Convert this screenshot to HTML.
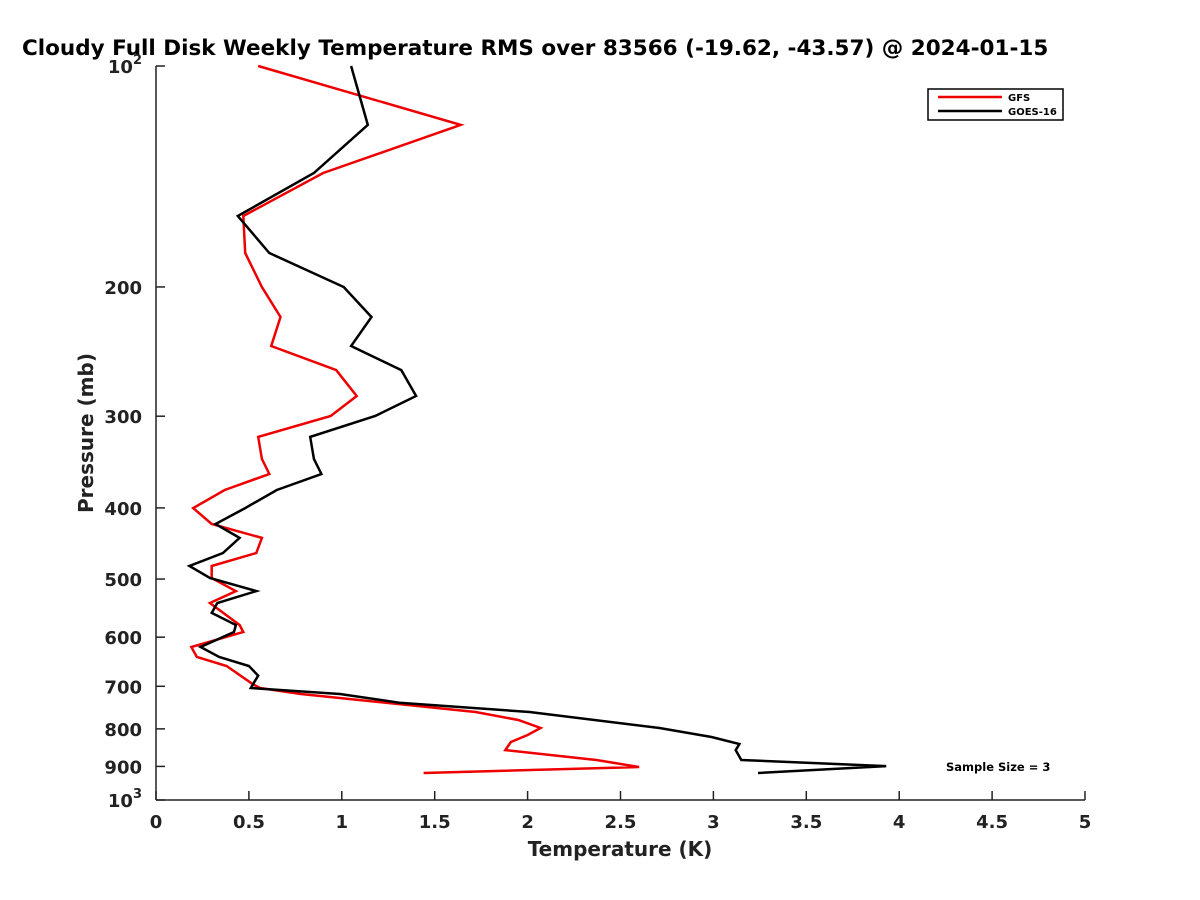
<!DOCTYPE html>
<html><head><meta charset="utf-8"><style>body{margin:0;background:#fff}svg{display:block;font-family:"DejaVu Sans","Liberation Sans",sans-serif}</style></head>
<body>
<svg id="chart" width="1200" height="900" viewBox="0 0 1200 900">
<text x="22" y="55" font-size="21.5" font-weight="bold" fill="#000">Cloudy Full Disk Weekly Temperature RMS over 83566 (-19.62, -43.57) @ 2024-01-15</text>
<g id="axes"></g>
<g id="series"></g>
<text x="620" y="856" font-size="20" font-weight="bold" text-anchor="middle" fill="#222">Temperature (K)</text>
<text transform="translate(93,433) rotate(-90)" font-size="20" font-weight="bold" text-anchor="middle" fill="#222">Pressure (mb)</text>
<text x="946" y="771" font-size="11.5" font-weight="bold" fill="#000">Sample Size = 3</text>
<g>
<rect x="928" y="89" width="135" height="31" fill="#fff" stroke="#000" stroke-width="1.5"/>
<line x1="938" y1="97" x2="1002" y2="97" stroke="#e00" stroke-width="2.5"/>
<text x="1008" y="101" font-size="10" font-weight="bold">GFS</text>
<line x1="938" y1="111" x2="1002" y2="111" stroke="#000" stroke-width="2.5"/>
<text x="1008" y="115" font-size="10" font-weight="bold">GOES-16</text>
</g>
</svg>
<script>
const xTicks=[0,0.5,1,1.5,2,2.5,3,3.5,4,4.5,5];
const xTickLabels=["0","0.5","1","1.5","2","2.5","3","3.5","4","4.5","5"];
const yTicks=[100,200,300,400,500,600,700,800,900,1000];
const gfsPressure=[100,120.3,139.9,160.1,179.8,200,219.8,240.7,259.6,281.6,299.8,320.1,343,359.6,378.2,400.2,420.7,439.5,460.8,479.9,498.3,519.2,539.1,577.6,590.4,618.8,638.6,656.9,695,703.8,717.1,758.7,778,797.8,815.5,833.7,855,882.2,901.6,918.8];
const gfsValues=[0.55,1.64,0.90,0.47,0.48,0.57,0.67,0.62,0.97,1.08,0.94,0.55,0.57,0.61,0.37,0.20,0.30,0.57,0.54,0.30,0.30,0.43,0.29,0.45,0.47,0.19,0.22,0.38,0.52,0.56,0.78,1.72,1.95,2.07,2.00,1.91,1.88,2.37,2.60,1.44];
const goesPressure=[100,120.3,139.9,160.1,179.8,200,219.8,240.7,259.6,281.6,299.8,320.1,343,359.6,378.2,400.2,420.7,439.5,460.8,479.9,498.3,519.2,539.1,556,577.6,590.4,618.8,638.6,656.9,677,690,703.8,717.1,737,758.7,797.8,820.6,838.8,855,882.2,899,918.8];
const goesValues=[1.05,1.14,0.85,0.44,0.61,1.01,1.16,1.05,1.32,1.40,1.18,0.83,0.85,0.89,0.65,0.48,0.32,0.45,0.36,0.18,0.29,0.54,0.33,0.30,0.43,0.42,0.24,0.34,0.50,0.55,0.53,0.51,0.99,1.31,2.01,2.71,2.99,3.14,3.12,3.15,3.93,3.24];
const NS="http://www.w3.org/2000/svg";
const X0=156,X1=1085,Y0=66,Y1=800;
function xs(v){return X0+(v-0)/(5-0)*(X1-X0);}
function ys(p){return Y0+(Math.log10(p)-2)*(Y1-Y0);}
function mk(tag,attrs,parent){const e=document.createElementNS(NS,tag);for(const k in attrs)e.setAttribute(k,attrs[k]);parent.appendChild(e);return e;}
const axes=document.getElementById('axes');
const xl=mk('line',{x1:X0,y1:Y1,x2:X1,y2:Y1,stroke:'#222','stroke-width':1.5},axes);


const yl=mk('line',{x1:X0,y1:Y0,x2:X0,y2:Y1,stroke:'#222','stroke-width':1.5},axes);


xTicks.forEach((t,i)=>{const x=xs(t);
mk('line',{x1:x,y1:Y1,x2:x,y2:Y1-9,stroke:'#222','stroke-width':1.5},axes);
const tx=mk('text',{x:x,y:Y1+28,'font-size':18,'font-weight':'bold','text-anchor':'middle',fill:'#222'},axes);
tx.textContent=xTickLabels[i];

});
yTicks.forEach(t=>{const y=ys(t);
mk('line',{x1:X0,y1:y,x2:X0+9,y2:y,stroke:'#222','stroke-width':1.5},axes);
const tx=mk('text',{x:X0-14,y:y+7,'font-size':18,'font-weight':'bold','text-anchor':'end',fill:'#222'},axes);
if(t===100||t===1000){tx.textContent='10';const s=mk('tspan',{dy:-9,'font-size':13},tx);s.textContent=t===100?'2':'3';}
else tx.textContent=String(t);

});
const ser=document.getElementById('series');
function line(vals,pres,color,name){const pts=vals.map((v,i)=>xs(v).toFixed(1)+','+ys(pres[i]).toFixed(1)).join(' ');
const pl=mk('polyline',{points:pts,fill:'none',stroke:color,'stroke-width':2.5,'stroke-linejoin':'miter'},ser);

}
line(gfsValues,gfsPressure,'#e00','gfs-line');
line(goesValues,goesPressure,'#000','goes16-line');
</script>
</body></html>
